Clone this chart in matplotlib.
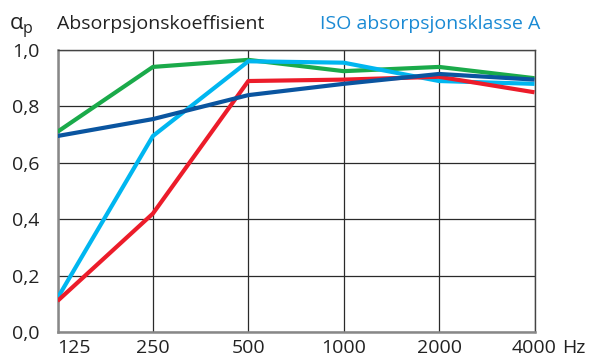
import matplotlib
matplotlib.use('Agg')
import matplotlib.pyplot as plt

plt.rcParams['font.family'] = ['Open Sans', 'DejaVu Sans']

freqs = ['125', '250', '500', '1000', '2000', '4000']
green = [0.71, 0.94, 0.965, 0.925, 0.94, 0.90]
light_blue = [0.12, 0.695, 0.96, 0.955, 0.89, 0.88]
red = [0.11, 0.42, 0.89, 0.895, 0.905, 0.85]
dark_blue = [0.695, 0.755, 0.84, 0.88, 0.915, 0.895]
yticks = [0.0, 0.2, 0.4, 0.6, 0.8, 1.0]
ylabels = ['0,0', '0,2', '0,4', '0,6', '0,8', '1,0']

fig = plt.figure(figsize=(5.95, 3.62), dpi=100)
ax = fig.add_axes([57.5/595, 30/362, 477/595, 282/362])

x = list(range(len(freqs)))
ax.plot(x, green, color='#1aaa4a', lw=3, solid_capstyle='butt', zorder=3)
ax.plot(x, light_blue, color='#00b6f0', lw=3, solid_capstyle='butt', zorder=3)
ax.plot(x, red, color='#ec1c2a', lw=3, solid_capstyle='butt', zorder=3)
ax.plot(x, dark_blue, color='#0a55a0', lw=3, solid_capstyle='butt', zorder=3)

ax.set_xlim(0, 5)
ax.set_ylim(0, 1)
ax.set_xticks(x)
ax.set_xticklabels(freqs, fontsize=14, color='#222222')
ax.get_xticklabels()[0].set_ha('left')
ax.set_yticks(yticks)
ax.set_yticklabels(ylabels, fontsize=14, color='#222222')
ax.tick_params(length=0, pad=13)
ax.tick_params(axis='x', pad=5)
ax.grid(True, color='#2a2a2a', lw=0.9)
for s in ax.spines.values():
    s.set_color('#444444')
    s.set_linewidth(1.0)
ax.spines['left'].set_color('#888888')
ax.spines['bottom'].set_color('#888888')
ax.spines['left'].set_linewidth(1.8)
ax.spines['bottom'].set_linewidth(1.8)
ax.set_axisbelow(True)

ax.annotate('Hz', xy=(5, 0), xycoords=('data', 'axes fraction'),
            xytext=(20, -5), textcoords='offset points', ha='left', va='top',
            fontsize=14, color='#222222')

fig.text(10/595, 1 - 29/362, 'α', fontsize=16, color='#222222', va='baseline')
fig.text(23/595, 1 - 33/362, 'p', fontsize=11.5, color='#222222', va='baseline')
fig.text(57/595, 1 - 29/362, 'Absorpsjonskoeffisient', fontsize=14,
         color='#222222', va='baseline')
fig.text(320/595, 1 - 29/362, 'ISO absorpsjonsklasse A', fontsize=14,
         color='#1a8ad4', va='baseline')

fig.savefig('out.png', dpi=100)
